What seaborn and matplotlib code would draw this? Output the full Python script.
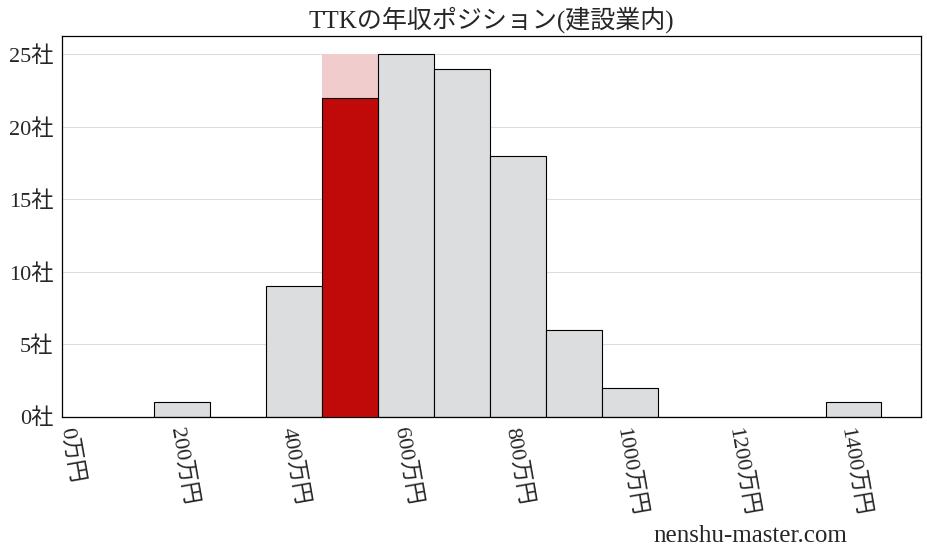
import numpy as np
import pandas as pd
import matplotlib
matplotlib.use('Agg')
import matplotlib.pyplot as plt
import seaborn as sns

# income bins (center, 万円) and number of companies
bin_centers = [200, 400, 500, 600, 700, 800, 900, 1000, 1400]
company_counts = [1, 9, 25, 25, 24, 18, 6, 2, 1]
# bin containing TTK: full count shown pale, red part up to its position
own_bin = 500
own_bin_total = 25
own_bin_value = 22
xtick_values = [0, 200, 400, 600, 800, 1000, 1200, 1400]
ytick_values = [0, 5, 10, 15, 20, 25]

sns.set_style('white')
plt.rcParams['font.family'] = ['Liberation Serif', 'Noto Sans CJK JP']

data = pd.DataFrame({'income': bin_centers, 'count': company_counts})
others = data[data['income'] != own_bin]

fig, ax = plt.subplots(figsize=(9.28, 5.57), dpi=100)
ax.grid(axis='y', color='#dddddd', linewidth=0.8, zorder=0)
ax.set_axisbelow(True)

sns.histplot(data=others, x='income', weights='count', binwidth=100, binrange=(150, 1450),
             color='#dcdddf', alpha=1, edgecolor='black', linewidth=0.8, ax=ax, zorder=2)
own = pd.DataFrame({'income': [own_bin], 'count': [own_bin_total]})
sns.histplot(data=own, x='income', weights='count', binwidth=100, binrange=(450, 550),
             color='#f0cccc', alpha=1, edgecolor='none', linewidth=0, ax=ax, zorder=1)
own_red = pd.DataFrame({'income': [own_bin], 'count': [own_bin_value]})
sns.histplot(data=own_red, x='income', weights='count', binwidth=100, binrange=(450, 550),
             color='#c00a0a', alpha=1, edgecolor='black', linewidth=0.8, ax=ax, zorder=3)

ax.set_xlim(-15, 1520)
ax.set_ylim(0, 26.25)
ax.set_xticks(xtick_values)
ax.set_xticklabels([f'{v}万円' for v in xtick_values], rotation=-80, ha='center', va='top', fontsize=16)
ax.set_yticks(ytick_values)
ax.set_yticklabels([f'{v}社' for v in ytick_values], fontsize=16)
ax.tick_params(axis='x', length=3, width=0.8, pad=4)
ax.tick_params(axis='y', length=3, width=0.8)
ax.set_xlabel('')
ax.set_ylabel('')
for s in ax.spines.values():
    s.set_color('black')
    s.set_linewidth(0.9)
ax.set_title('TTKの年収ポジション(建設業内)', fontsize=18, pad=6)

fig.text(0.913, 0.018, 'nenshu-master.com', ha='right', va='bottom', fontsize=18)
fig.subplots_adjust(left=0.067, right=0.992, top=0.935, bottom=0.252)
fig.savefig('out.png', dpi=100)
